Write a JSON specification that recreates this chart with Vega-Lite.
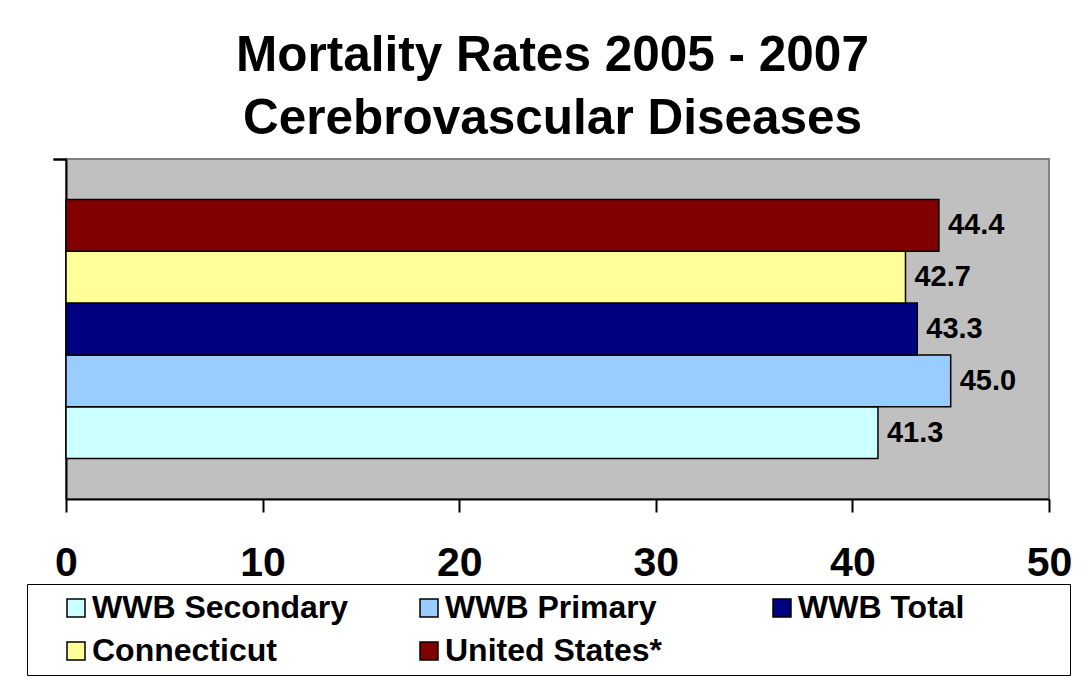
{
  "$schema": "https://vega.github.io/schema/vega-lite/v6.json",
  "width": 983,
  "height": 340,
  "autosize": {"type": "none"},
  "padding": {"left": 66, "top": 159, "right": 43, "bottom": 184},
  "background": "white",
  "title": {
    "text": ["Mortality Rates 2005 - 2007", "Cerebrovascular Diseases"],
    "font": "Liberation Sans",
    "fontSize": 49.5,
    "fontWeight": "bold",
    "color": "black",
    "lineHeight": 63,
    "offset": 14,
    "dx": -5,
    "anchor": "middle"
  },
  "config": {
    "view": {"fill": "#C0C0C0", "stroke": "#808080", "strokeWidth": 2}
  },
  "data": {
    "values": [
      {"group": "Cerebrovascular Diseases", "series": "WWB Secondary", "value": 41.3},
      {"group": "Cerebrovascular Diseases", "series": "WWB Primary", "value": 45.0},
      {"group": "Cerebrovascular Diseases", "series": "WWB Total", "value": 43.3},
      {"group": "Cerebrovascular Diseases", "series": "Connecticut", "value": 42.7},
      {"group": "Cerebrovascular Diseases", "series": "United States*", "value": 44.4}
    ]
  },
  "encoding": {
    "y": {
      "field": "group",
      "type": "nominal",
      "scale": {"paddingInner": 0, "paddingOuter": 0},
      "axis": {
        "title": null,
        "labels": false,
        "bandPosition": 0,
        "tickExtra": true,
        "tickSize": 13,
        "tickColor": "black",
        "tickWidth": 2,
        "domainColor": "black",
        "domainWidth": 2,
        "grid": false
      }
    },
    "yOffset": {
      "field": "series",
      "type": "nominal",
      "sort": ["United States*", "Connecticut", "WWB Total", "WWB Primary", "WWB Secondary"],
      "scale": {"paddingInner": 0, "paddingOuter": 0.78}
    },
    "x": {
      "field": "value",
      "type": "quantitative",
      "scale": {"domain": [0, 50], "nice": false},
      "axis": {
        "title": null,
        "values": [0, 10, 20, 30, 40, 50],
        "grid": false,
        "tickSize": 13,
        "tickColor": "black",
        "tickWidth": 2,
        "domainColor": "black",
        "domainWidth": 2,
        "labelFont": "Liberation Sans",
        "labelFontSize": 41,
        "labelFontWeight": "bold",
        "labelColor": "black",
        "labelPadding": 31,
        "labelFlush": false,
        "format": "d"
      }
    }
  },
  "layer": [
    {
      "mark": {"type": "bar", "stroke": "black", "strokeWidth": 1.5},
      "encoding": {
        "color": {
          "field": "series",
          "type": "nominal",
          "scale": {
            "domain": ["WWB Secondary", "WWB Primary", "WWB Total", "Connecticut", "United States*"],
            "range": ["#CCFFFF", "#99CCFF", "#000080", "#FFFF99", "#800000"]
          },
          "legend": {
            "orient": "none",
            "legendX": -39,
            "legendY": 425,
            "direction": "horizontal",
            "columns": 3,
            "title": " ",
            "titleOrient": "right",
            "titleFontSize": 1,
            "titlePadding": 98,
            "symbolType": "square",
            "symbolSize": 324,
            "symbolStrokeColor": "black",
            "symbolStrokeWidth": 1.5,
            "symbolOpacity": 1,
            "labelFont": "Liberation Sans",
            "labelFontSize": 32,
            "labelFontWeight": "bold",
            "labelColor": "black",
            "labelOffset": 0,
            "labelLimit": 400,
            "strokeColor": "black",
            "fillColor": "white",
            "padding": 8,
            "symbolOffset": 25,
            "columnPadding": 39,
            "rowPadding": 11,
            "gridAlign": "all"
          }
        }
      }
    },
    {
      "mark": {
        "type": "text",
        "align": "left",
        "baseline": "middle",
        "dx": 9,
        "font": "Liberation Sans",
        "fontSize": 29,
        "fontWeight": "bold",
        "color": "black"
      },
      "encoding": {
        "text": {"field": "value", "type": "quantitative", "format": ".1f"}
      }
    }
  ]
}
